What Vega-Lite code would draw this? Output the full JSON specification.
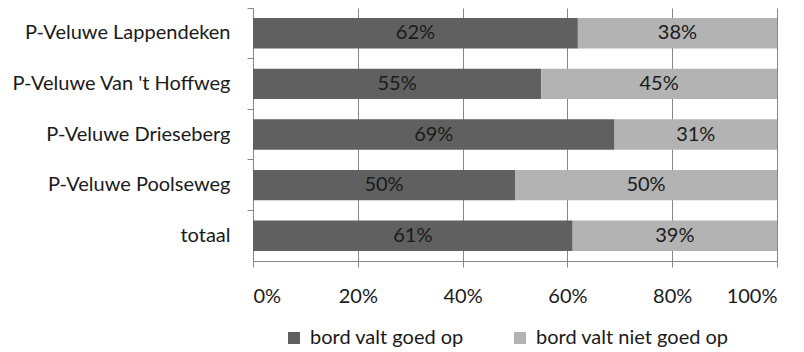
{
  "$schema": "https://vega.github.io/schema/vega-lite/v6.json",
  "width": 524,
  "height": 253,
  "autosize": "none",
  "padding": {"left": 253, "top": 8, "right": 27, "bottom": 91},
  "config": {
    "font": "Lato",
    "view": {"stroke": null},
    "axis": {
      "domainColor": "#868686",
      "tickColor": "#868686",
      "gridColor": "#868686",
      "labelColor": "#1a1a1a",
      "labelFontSize": 20,
      "labelFont": "Lato"
    }
  },
  "data": {
    "values": [
      {"loc": "P-Veluwe Lappendeken", "series": "bord valt goed op", "pct": 0.62},
      {"loc": "P-Veluwe Lappendeken", "series": "bord valt niet goed op", "pct": 0.38},
      {"loc": "P-Veluwe Van 't Hoffweg\u00a0", "series": "bord valt goed op", "pct": 0.55},
      {"loc": "P-Veluwe Van 't Hoffweg\u00a0", "series": "bord valt niet goed op", "pct": 0.45},
      {"loc": "P-Veluwe Drieseberg", "series": "bord valt goed op", "pct": 0.69},
      {"loc": "P-Veluwe Drieseberg", "series": "bord valt niet goed op", "pct": 0.31},
      {"loc": "P-Veluwe Poolseweg", "series": "bord valt goed op", "pct": 0.50},
      {"loc": "P-Veluwe Poolseweg", "series": "bord valt niet goed op", "pct": 0.50},
      {"loc": "totaal", "series": "bord valt goed op", "pct": 0.61},
      {"loc": "totaal", "series": "bord valt niet goed op", "pct": 0.39}
    ]
  },
  "transform": [
    {"stack": "pct", "groupby": ["loc"], "offset": "normalize", "sort": [{"field": "series", "order": "ascending"}], "as": ["x0", "x1"]},
    {"calculate": "(datum.x0 + datum.x1) / 2", "as": "xm"}
  ],
  "encoding": {
    "y": {
      "field": "loc",
      "type": "nominal",
      "sort": null,
      "scale": {"paddingInner": 0.4, "paddingOuter": 0.2},
      "axis": {"title": null, "tickSize": 6, "bandPosition": -0.3333, "labelPadding": 17, "labelLimit": 300}
    }
  },
  "layer": [
    {
      "mark": {"type": "bar"},
      "encoding": {
        "x": {
          "field": "x0",
          "type": "quantitative",
          "scale": {"domain": [0, 1], "nice": false},
          "axis": {"title": null, "format": ".0%", "values": [0, 0.2, 0.4, 0.6, 0.8, 1], "grid": true, "tickSize": 6, "labelPadding": 19}
        },
        "x2": {"field": "x1"},
        "color": {
          "field": "series",
          "type": "nominal",
          "scale": {"range": ["#606060", "#b3b3b3"]},
          "legend": {
            "title": null,
            "orient": "none",
            "direction": "horizontal",
            "legendX": 31,
            "legendY": 320,
            "symbolType": "square",
            "symbolSize": 144,
            "symbolStrokeWidth": 0,
            "labelFontSize": 20,
            "labelColor": "#1a1a1a",
            "labelOffset": 6,
            "columnPadding": 46,
            "labelLimit": 300
          }
        }
      }
    },
    {
      "mark": {"type": "text", "fontSize": 20, "color": "#1a1a1a", "baseline": "middle"},
      "encoding": {
        "x": {"field": "xm", "type": "quantitative"},
        "text": {"field": "pct", "type": "quantitative", "format": ".0%"}
      }
    }
  ]
}
